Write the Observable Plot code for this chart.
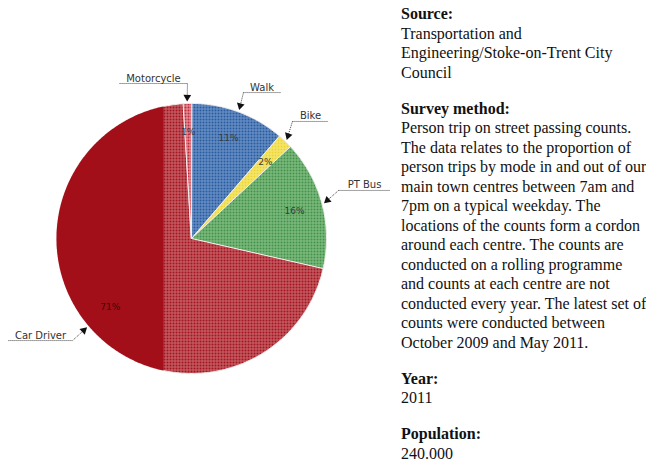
<!DOCTYPE html>
<html><head><meta charset="utf-8">
<script src="https://cdn.jsdelivr.net/npm/d3@7"></script>
<script src="https://cdn.jsdelivr.net/npm/@observablehq/plot@0.6"></script>
<style>
html,body{margin:0;padding:0;background:#fff;}
#wrap{position:relative;width:646px;height:464px;overflow:hidden;background:#fff;}
#chart{position:absolute;left:0;top:0;}
#info{position:absolute;left:401px;top:4px;font-family:"Liberation Serif","Times New Roman",serif;font-size:16px;line-height:19.5px;color:#111;white-space:nowrap;}
#info p{margin:0 0 16.5px 0;}
#info b{font-weight:bold;}
</style></head><body>
<div id="wrap"><div id="chart"></div><div id="info"></div></div>
<script>
// ---- data ----
const modes = ["Walk", "Bike", "PT Bus", "Car Driver", "Motorcycle"];
const shares = [11.3, 1.8, 15.5, 70.5, 1.0];
const pctLabels = ["11%", "2%", "16%", "71%", "1%"];

const infoHeadings = ["Source:", "Survey method:", "Year:", "Population:"];
const infoBodies = [
  ["Transportation and", "Engineering/Stoke-on-Trent City", "Council"],
  ["Person trip on street passing counts.", "The data relates to the proportion of",
   "person trips by mode in and out of our", "main town centres between 7am and",
   "7pm on a typical weekday. The", "locations of the counts form a cordon",
   "around each centre. The counts are", "conducted on a rolling programme",
   "and counts at each centre are not", "conducted every year. The latest set of",
   "counts were conducted between", "October 2009 and May 2011."],
  ["2011"],
  ["240.000"]
];

// ---- styling / layout ----
const patterns = {
  "Walk":       {base: "#285a9f", line: "#6f96c8"},
  "Bike":       {base: "#ecd332", line: "#f5ea7a"},
  "PT Bus":     {base: "#42904a", line: "#86c186"},
  "Car Driver": {base: "#a3141e", line: "#c9666e"},
  "Motorcycle": {base: "#c02636", line: "#eaa0a8"}
};
const solidRed = "#a30f18";
const stripX = -0.207;            // left part of the pie is drawn solid
const W = 400, H = 464, CX = 191, CY = 238, R = 135;

// callout layout in radius units: underline y, x1, x2, elbow side
const callouts = [
  {mode: "Motorcycle", y: 1.148, x1: -0.533, x2: -0.030, elbow: "x2"},
  {mode: "Walk",       y: 1.081, x1: 0.385,  x2: 0.659,  elbow: "x1"},
  {mode: "Bike",       y: 0.867, x1: 0.748,  x2: 1.015,  elbow: "x1"},
  {mode: "PT Bus",     y: 0.356, x1: 1.089,  x2: 1.474,  elbow: "x1"},
  {mode: "Car Driver", y: -0.756, x1: -1.356, x2: -0.881, elbow: "x2"}
];

// ---- build geometry from data ----
const rows = modes.map((m, i) => ({mode: m, share: shares[i], label: pctLabels[i]}));
const arcs = d3.pie().sort(null).value(d => d.share)(rows);
const mid = a => (a.startAngle + a.endAngle) / 2;

const slicePts = arcs.flatMap(a => {
  const pts = [{mode: a.data.mode, x: 0, y: 0}];
  const n = Math.max(4, Math.ceil((a.endAngle - a.startAngle) / (Math.PI / 360)));
  for (let k = 0; k <= n; k++) {
    const t = a.startAngle + (a.endAngle - a.startAngle) * k / n;
    pts.push({mode: a.data.mode, x: Math.sin(t), y: Math.cos(t)});
  }
  return pts;
});

const t0 = Math.PI - Math.asin(stripX), t1 = 2 * Math.PI + Math.asin(stripX);
const stripPts = d3.range(0, 301).map(k => {
  const t = t0 + (t1 - t0) * k / 300;
  return {x: Math.sin(t), y: Math.cos(t)};
});

const arcByMode = new Map(arcs.map(a => [a.data.mode, a]));
const arrows = callouts.map(c => {
  const a = arcByMode.get(c.mode), m = mid(a);
  const tx = 1.02 * Math.sin(m), ty = 1.02 * Math.cos(m);
  const ex = c[c.elbow], ey = c.y;
  const dx = tx - ex, dy = ty - ey, len = Math.hypot(dx, dy);
  const back = 3.8 / R;
  return {ex, ey, tx, ty,
          hx: tx - dx / len * back, hy: ty - dy / len * back,
          rot: Math.atan2(dx, dy) * 180 / Math.PI};
});

const chart = Plot.plot({
  width: W, height: H,
  marginTop: 0, marginRight: 0, marginBottom: 0, marginLeft: 0,
  style: {background: "transparent", overflow: "visible"},
  x: {domain: [-CX / R, (W - CX) / R], axis: null},
  y: {domain: [-(H - CY) / R, CY / R], axis: null},
  color: {domain: modes, range: modes.map(m => `url(#pat-${m.replace(/\s+/g, "-")})`)},
  marks: [
    Plot.line(slicePts, {x: "x", y: "y", z: "mode", fill: "mode", stroke: "#f3eeee",
                         strokeWidth: 1, curve: "linear-closed"}),
    Plot.line(stripPts, {x: "x", y: "y", fill: solidRed, stroke: "none", curve: "linear-closed"}),
    Plot.text(arcs, {x: a => 0.79 * Math.sin(mid(a)), y: a => 0.79 * Math.cos(mid(a)),
                     text: a => a.data.label, fontSize: 9, fontFamily: "DejaVu Sans",
                     fill: a => a.data.mode === "Car Driver" ? "#3a0808" : "#3a3a3a"}),
    Plot.link(callouts, {x1: "x1", x2: "x2", y1: "y", y2: "y", stroke: "#444",
                         strokeWidth: 1, strokeDasharray: "1,1"}),
    Plot.link(arrows, {x1: "ex", y1: "ey", x2: "hx", y2: "hy", stroke: "#444",
                       strokeWidth: 1, strokeDasharray: "1,1"}),
    Plot.dot(arrows, {x: "hx", y: "hy", symbol: "triangle2", r: 3.7, fill: "#111",
                      stroke: "none", rotate: "rot"}),
    Plot.text(callouts, {x: c => (c.x1 + c.x2) / 2, y: "y", text: "mode",
                         lineAnchor: "bottom", dy: -2, fontSize: 10,
                         fontFamily: "DejaVu Sans", fill: "#333"})
  ]
});

// pattern fills (hatched texture of the original)
const defs = d3.select(chart).insert("defs", ":first-child");
for (const m of modes) {
  const p = patterns[m];
  const pat = defs.append("pattern").attr("id", `pat-${m.replace(/\s+/g, "-")}`)
    .attr("patternUnits", "userSpaceOnUse").attr("x", 0).attr("y", 0)
    .attr("width", 3).attr("height", 3);
  pat.append("rect").attr("width", 3).attr("height", 3).attr("fill", p.base);
  pat.append("rect").attr("width", 3).attr("height", 1).attr("fill", p.line);
  pat.append("rect").attr("width", 1).attr("height", 3).attr("fill", p.line);
}
document.getElementById("chart").appendChild(chart);

// side text
const info = document.getElementById("info");
infoHeadings.forEach((h, i) => {
  const p = document.createElement("p");
  const b = document.createElement("b");
  b.textContent = h;
  p.appendChild(b);
  for (const line of infoBodies[i]) {
    p.appendChild(document.createElement("br"));
    p.appendChild(document.createTextNode(line));
  }
  info.appendChild(p);
});
</script>
</body></html>
